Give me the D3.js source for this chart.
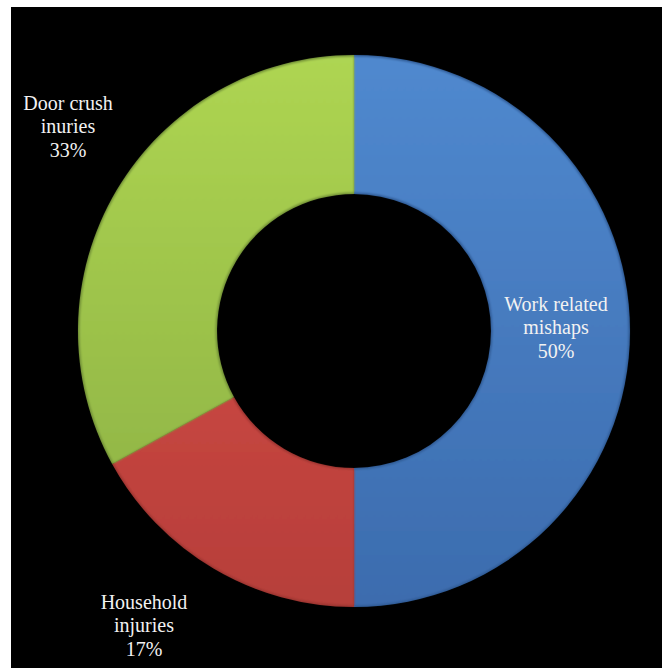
<!DOCTYPE html>
<html>
<head>
<meta charset="utf-8">
<script src="https://cdn.jsdelivr.net/npm/d3@7"></script>
<style>
  html, body { margin: 0; padding: 0; background: #ffffff; }
  svg { display: block; }
  .lbl { font-family: "Liberation Serif", "Times New Roman", "DejaVu Serif", serif; }
</style>
</head>
<body>
<svg id="chart" width="669" height="668"></svg>
<script>
// Injury causes, share of cases (%)
const categories = ["Work related mishaps", "Household injuries", "Door crush inuries"];
const values = [50, 17, 33];
const labelLines = [
  ["Work related", "mishaps", "50%"],
  ["Household", "injuries", "17%"],
  ["Door crush", "inuries", "33%"]
];
// Office-style palette: [light top, dark bottom, edge]
const palette = [
  ["#5089cf", "#3c6cae", "#2f5a94"],
  ["#e0504a", "#b63f3a", "#9a3430"],
  ["#aed552", "#8aae43", "#6f8d35"]
];

const svg = d3.select("#chart");
const W = 669, H = 668;

// black plotting panel
svg.append("rect")
  .attr("x", 11).attr("y", 7)
  .attr("width", 651).attr("height", H - 7)
  .attr("fill", "#000000");

const cx = 354, cy = 331, outerR = 276, innerR = 137;

const pie = d3.pie().sort(null).value(d => d)
  .startAngle(0).endAngle(2 * Math.PI);
const arcs = pie(values);
const arc = d3.arc().innerRadius(innerR).outerRadius(outerR);
const bevelArc = d3.arc().innerRadius(innerR + 1.5).outerRadius(outerR - 1.5);

const defs = svg.append("defs");
palette.forEach((p, i) => {
  const g = defs.append("linearGradient")
    .attr("id", "grad" + i)
    .attr("gradientUnits", "userSpaceOnUse")
    .attr("x1", 0).attr("y1", -outerR)
    .attr("x2", 0).attr("y2", outerR);
  g.append("stop").attr("offset", "0%").attr("stop-color", p[0]);
  g.append("stop").attr("offset", "100%").attr("stop-color", p[1]);
});

const blur = defs.append("filter").attr("id", "soft")
  .attr("x", "-10%").attr("y", "-10%").attr("width", "120%").attr("height", "120%");
blur.append("feGaussianBlur").attr("stdDeviation", 1);

const g = svg.append("g").attr("transform", `translate(${cx},${cy})`);

const slices = g.selectAll("g.slice").data(arcs).join("g").attr("class", "slice");
slices.append("path")
  .attr("d", arc)
  .attr("fill", (d, i) => palette[i][2]);
slices.append("path")
  .attr("d", bevelArc)
  .attr("fill", (d, i) => `url(#grad${i})`)
  .attr("filter", "url(#soft)");

// labels
const labelPos = [
  { x: 556, y: 311 },
  { x: 144, y: 609 },
  { x: 68, y: 110 }
];
const lineH = 23.3;
svg.selectAll("text.lbl").data(labelLines).join("text")
  .attr("class", "lbl")
  .attr("text-anchor", "middle")
  .attr("font-size", 20)
  .attr("fill", "#f2f2f2")
  .each(function (lines, i) {
    d3.select(this).selectAll("tspan").data(lines).join("tspan")
      .attr("x", labelPos[i].x)
      .attr("y", (l, j) => labelPos[i].y + j * lineH)
      .text(l => l);
  });
</script>
</body>
</html>
